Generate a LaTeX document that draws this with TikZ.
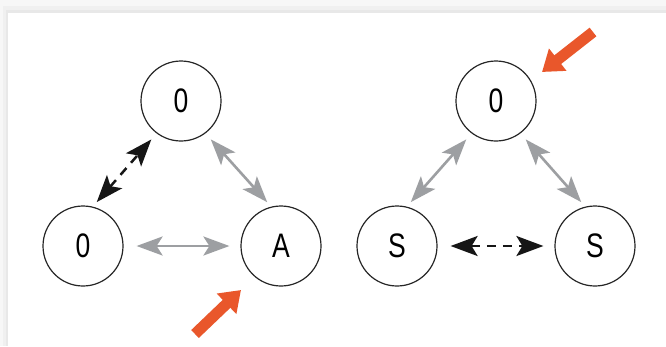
\documentclass[tikz,border=0pt]{standalone}
\usepackage{fontspec}
\setmainfont{Liberation Sans}
\usetikzlibrary{arrows.meta}
\definecolor{ograngeA}{HTML}{E9572B}
\definecolor{grayarrow}{HTML}{9D9FA2}
\definecolor{darkarrow}{HTML}{161616}
\begin{document}
\begin{tikzpicture}[x=1pt,y=-1pt,
  state/.style={circle,draw=black!85,line width=1.2pt,minimum size=80pt,inner sep=0pt,
    font=\fontsize{34}{34}\selectfont},
  headG/.tip={Stealth[length=26pt 0,width=19pt 0,inset=6pt 0]},
  headD/.tip={Stealth[length=27pt 0,width=20pt 0,inset=6pt 0]},
  glink/.style={draw=grayarrow,line width=2.6pt,headG-headG},
  dlink/.style={draw=darkarrow,line width=2.5pt,dash pattern=on 9pt off 7pt,headD-headD},
  hilite/.style={draw=ograngeA,line width=11pt,-{Triangle[length=20pt 0,width=27pt 0]}}]
\useasboundingbox (0,0) rectangle (666,346);
% card and its shadow
\fill[black!3] (0,0) rectangle (666,346);
\fill[black!6] (3,6) rectangle (666,346);
\fill[black!9] (6,10) rectangle (666,346);
\fill[white] (8,13) rectangle (666,346);
% left group
\node[state] (lt) at (181,101) {\scalebox{0.78}[1]{0}};
\node[state] (lb) at (83,246) {\scalebox{0.78}[1]{0}};
\node[state] (la) at (281,246) {\scalebox{0.78}[1]{A}};
% right group
\node[state] (rt) at (496,101) {\scalebox{0.78}[1]{0}};
\node[state] (rl) at (397,246) {\scalebox{0.78}[1]{S}};
\node[state] (rr) at (595,246) {\scalebox{0.78}[1]{S}};
% connectors
\draw[dlink,shorten <=6pt,shorten >=8pt] (lb.76) -- (lt.233);
\draw[glink,shorten <=8pt,shorten >=6pt] (lt.307) -- (la.104);
\draw[glink,shorten <=13pt,shorten >=11pt] (lb.east) -- (la.west);
\draw[glink,shorten <=8pt,shorten >=6pt] (rt.233) -- (rl.76);
\draw[glink,shorten <=8pt,shorten >=6pt] (rt.307) -- (rr.104);
\draw[dlink,shorten <=13pt,shorten >=11pt] (rl.east) -- (rr.west);
% highlight arrows
\coordinate (ht1) at (593,32);
\coordinate (hh1) at (542,72);
\coordinate (ht2) at (195,334);
\coordinate (hh2) at (241,290);
\draw[hilite] (ht1) -- (hh1);
\draw[hilite] (ht2) -- (hh2);
\end{tikzpicture}
\end{document}
